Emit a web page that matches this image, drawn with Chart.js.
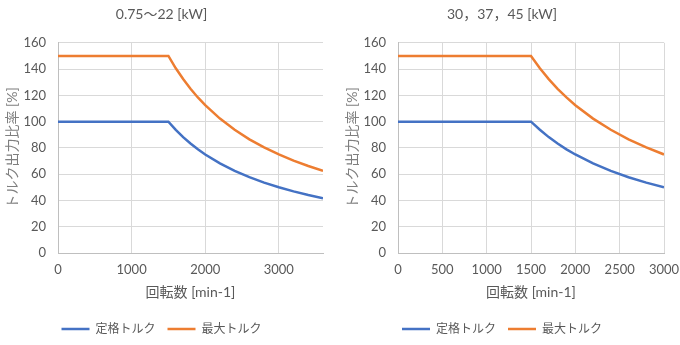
<!DOCTYPE html>
<html>
<head>
<meta charset="utf-8">
<script src="https://cdn.jsdelivr.net/npm/chart.js@4/dist/chart.umd.min.js"></script>
<style>
  html, body { margin: 0; padding: 0; background: #ffffff; }
  #wrap { position: relative; width: 680px; height: 345px; }
  .cell { position: absolute; top: 0; width: 340px; height: 345px; }
  #c1 { left: 0; }
  #c2 { left: 340px; }
</style>
</head>
<body>
<div id="wrap">
  <div class="cell" id="c1"><canvas id="chartA" width="340" height="345"></canvas></div>
  <div class="cell" id="c2"><canvas id="chartB" width="340" height="345"></canvas></div>
</div>
<script>
// Rated / maximum torque ratio vs. motor speed, two capacity ranges
const titleA = '0.75〜22 [kW]';
const titleB = '30，37，45 [kW]';
const seriesNames = ['定格トルク', '最大トルク'];
const xAxisTitle = '回転数 [min-1]';
const yAxisTitle = 'トルク出力比率 [%]';

// speed [min-1]
const speedA = [0, 1500, 1600, 1700, 1800, 1900, 2000, 2200, 2400, 2600, 2800, 3000, 3200, 3400, 3600];
const ratedA = [100, 100, 93.8, 88.2, 83.3, 78.9, 75, 68.2, 62.5, 57.7, 53.6, 50, 46.9, 44.1, 41.7];
const maxA   = [150, 150, 140.6, 132.4, 125, 118.4, 112.5, 102.3, 93.8, 86.5, 80.4, 75, 70.3, 66.2, 62.5];

const speedB = [0, 1500, 1600, 1700, 1800, 1900, 2000, 2200, 2400, 2600, 2800, 3000];
const ratedB = [100, 100, 93.8, 88.2, 83.3, 78.9, 75, 68.2, 62.5, 57.7, 53.6, 50];
const maxB   = [150, 150, 140.6, 132.4, 125, 118.4, 112.5, 102.3, 93.8, 86.5, 80.4, 75];

const xTicksA = [0, 1000, 2000, 3000];
const xTicksB = [0, 500, 1000, 1500, 2000, 2500, 3000];
const yTicks = [0, 20, 40, 60, 80, 100, 120, 140, 160];

const FONT = "Lato, 'Noto Sans CJK JP', sans-serif";
const TEXT = '#595959';
const GRID = '#d9d9d9';
const BLUE = '#4472c4';
const ORANGE = '#ed7d31';

function pts(xs, ys) { return xs.map((x, i) => ({ x: x, y: ys[i] })); }

function makeChart(id, title, xs, rated, maxT, xMax, xTicks, rightPad) {
  return new Chart(document.getElementById(id), {
    type: 'line',
    data: {
      datasets: [
        { label: seriesNames[0], data: pts(xs, rated), borderColor: BLUE, backgroundColor: BLUE,
          borderWidth: 2.5, pointRadius: 0, tension: 0 },
        { label: seriesNames[1], data: pts(xs, maxT), borderColor: ORANGE, backgroundColor: ORANGE,
          borderWidth: 2.5, pointRadius: 0, tension: 0 }
      ]
    },
    options: {
      responsive: false,
      animation: false,
      layout: { padding: { left: 0, right: rightPad, top: 0, bottom: 0 } },
      plugins: {
        title: {
          display: true, text: title, color: TEXT,
          font: { family: FONT, size: 14, weight: 'normal' },
          padding: { top: 6, bottom: 20 }
        },
        legend: {
          position: 'bottom',
          labels: {
            color: TEXT, font: { family: FONT, size: 12 },
            usePointStyle: true, pointStyle: 'line', pointStyleWidth: 28,
            padding: 12
          }
        },
        tooltip: { enabled: false }
      },
      scales: {
        x: {
          type: 'linear', min: 0, max: xMax,
          afterBuildTicks: s => { s.ticks = xTicks.map(v => ({ value: v })); },
          afterFit: s => { s.height = 58; s.paddingLeft = 0; s.paddingRight = 0; },
          grid: { color: GRID, drawTicks: false },
          border: { color: '#bfbfbf' },
          ticks: { color: TEXT, font: { family: FONT, size: 13 }, padding: 9, maxRotation: 0,
                   callback: v => String(v) },
          title: { display: true, text: xAxisTitle, color: TEXT,
                   font: { family: FONT, size: 14 }, padding: { top: 6, bottom: 10 } }
        },
        y: {
          min: 0, max: 160,
          afterBuildTicks: s => { s.ticks = yTicks.map(v => ({ value: v })); },
          afterFit: s => { s.width = 58; },
          grid: { color: GRID, drawTicks: false },
          border: { color: '#bfbfbf' },
          ticks: { color: TEXT, font: { family: FONT, size: 13 }, padding: 12,
                   callback: v => String(v) },
          title: { display: true, text: yAxisTitle, color: '#7f7f7f',
                   font: { family: FONT, size: 14 }, padding: { top: 4, bottom: 0 } }
        }
      }
    }
  });
}

makeChart('chartA', titleA, speedA, ratedA, maxA, 3600, xTicksA, 17);
makeChart('chartB', titleB, speedB, ratedB, maxB, 3000, xTicksB, 16);
</script>
</body>
</html>
